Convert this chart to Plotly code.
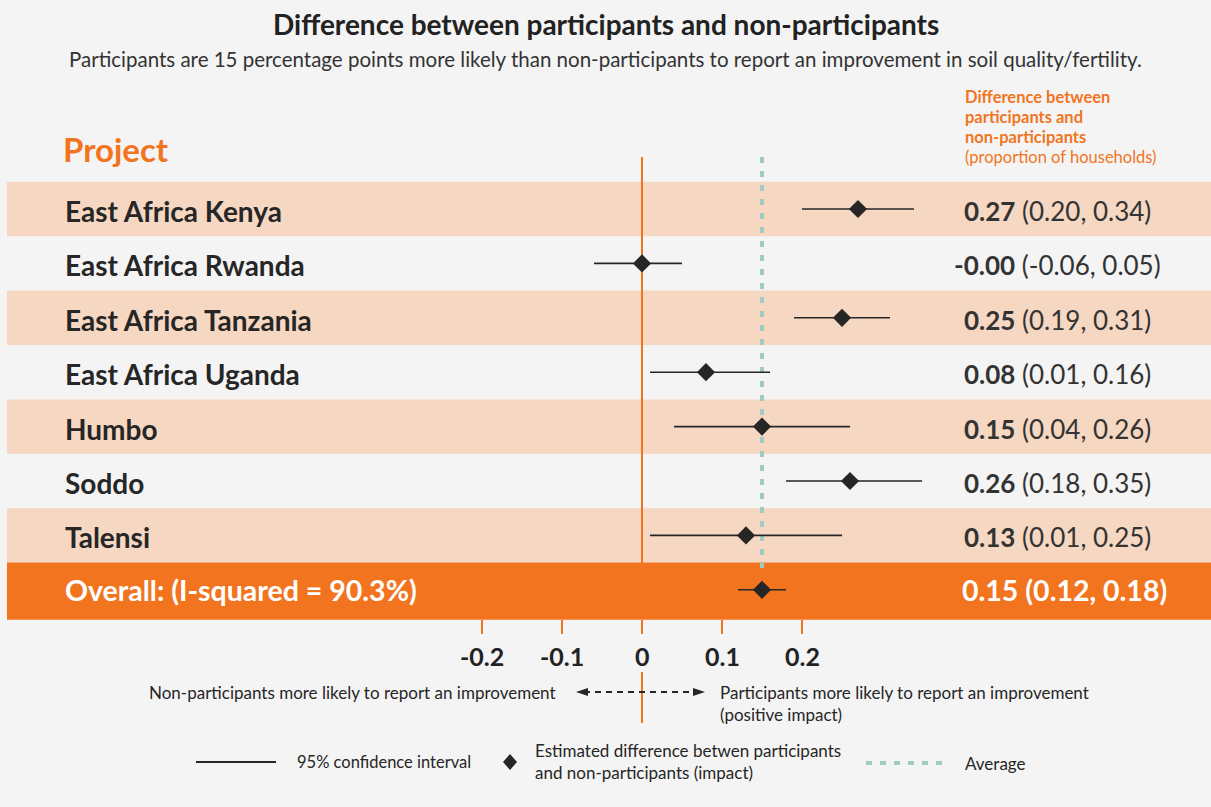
import plotly.graph_objects as go

# ---- data ----
projects = ["East Africa Kenya", "East Africa Rwanda", "East Africa Tanzania",
            "East Africa Uganda", "Humbo", "Soddo", "Talensi"]
estimates = [0.27, -0.00, 0.25, 0.08, 0.15, 0.26, 0.13]
ci_low = [0.20, -0.06, 0.19, 0.01, 0.04, 0.18, 0.01]
ci_high = [0.34, 0.05, 0.31, 0.16, 0.26, 0.35, 0.25]

overall_label = "Overall: (I-squared = 90.3%)"
overall_est = 0.15
overall_low = 0.12
overall_high = 0.18

tick_vals = [-0.2, -0.1, 0, 0.1, 0.2]
tick_text = ["-0.2", "-0.1", "0", "0.1", "0.2"]

# ---- layout helpers ----
W, H = 1211, 807
ZERO_PX, UNIT_PX = 642, 800          # x scale: pixels of x=0 and per unit
ROW0_PX, ROW_PX = 209, 54.4          # y scale: pixel of first row centre, row pitch

def py(px):
    """pixel row -> y data coordinate"""
    return (px - ROW0_PX) / ROW_PX

def pxx(px):
    return px / W

def pyy(px):
    return 1 - px / H

BG = "#f4f4f4"
PEACH = "#f6d7c2"
ORANGE = "#f2741f"
TEAL = "#9fcbc1"
DARK = "#262626"
FONT = "Lato"

fig = go.Figure()

n = len(projects)
rows = list(range(n))
overall_row = n

shapes = []
# alternating bands
for i in rows:
    if i % 2 == 0:
        shapes.append(dict(type="rect", xref="paper", yref="y", x0=pxx(7), x1=1,
                           y0=i - 0.5, y1=i + 0.5, fillcolor=PEACH, line_width=0,
                           layer="below"))
shapes.append(dict(type="rect", xref="paper", yref="y", x0=pxx(7), x1=1,
                   y0=overall_row - 0.5, y1=overall_row + 0.55, fillcolor=ORANGE,
                   line_width=0, layer="below"))

# zero reference line (above and below the axis labels)
shapes.append(dict(type="line", xref="x", yref="y", x0=0, x1=0, y0=py(157), y1=py(563),
                   line=dict(color=ORANGE, width=2), layer="below"))
shapes.append(dict(type="line", xref="x", yref="y", x0=0, x1=0, y0=py(672), y1=py(723),
                   line=dict(color=ORANGE, width=2)))
# average line
shapes.append(dict(type="line", xref="x", yref="y", x0=overall_est, x1=overall_est,
                   y0=py(157), y1=py(568),
                   line=dict(color=TEAL, width=4, dash="6px,8px"), layer="below"))
# tick marks
for t in tick_vals:
    shapes.append(dict(type="line", xref="x", yref="y", x0=t, x1=t, y0=py(620), y1=py(634),
                       line=dict(color=ORANGE, width=2)))

# dashed double arrow
ay = pyy(692)
shapes.append(dict(type="line", xref="paper", yref="paper", x0=pxx(584), x1=pxx(697),
                   y0=ay, y1=ay, line=dict(color=DARK, width=2, dash="6px,5px")))
for tip, base in [(576, 588), (705, 693)]:
    shapes.append(dict(type="path", xref="paper", yref="paper",
                       path=f"M {pxx(tip)},{ay} L {pxx(base)},{pyy(688)} L {pxx(base)},{pyy(696)} Z",
                       fillcolor=DARK, line_width=0))

# legend samples
shapes.append(dict(type="line", xref="paper", yref="paper", x0=pxx(196), x1=pxx(276),
                   y0=pyy(762), y1=pyy(762), line=dict(color=DARK, width=2)))
shapes.append(dict(type="path", xref="paper", yref="paper",
                   path=f"M {pxx(510)},{pyy(754)} L {pxx(517)},{pyy(762)} L {pxx(510)},{pyy(770)} L {pxx(503)},{pyy(762)} Z",
                   fillcolor=DARK, line_width=0))
shapes.append(dict(type="line", xref="paper", yref="paper", x0=pxx(866), x1=pxx(948),
                   y0=pyy(763), y1=pyy(763), line=dict(color=TEAL, width=4, dash="6px,8px")))

# ---- traces: confidence intervals and point estimates ----
all_rows = rows + [overall_row]
all_est = estimates + [overall_est]
all_lo = ci_low + [overall_low]
all_hi = ci_high + [overall_high]

fig.add_trace(go.Scatter(
    x=all_est, y=all_rows, mode="markers",
    marker=dict(symbol="diamond", size=14, color=DARK),
    error_x=dict(type="data", symmetric=False,
                 array=[h - e for h, e in zip(all_hi, all_est)],
                 arrayminus=[e - l for e, l in zip(all_est, all_lo)],
                 color=DARK, thickness=1.6, width=0),
    hoverinfo="skip", showlegend=False))

# ---- annotations ----
ann = []

def text(x, y, s, size, color=DARK, anchor="left", weight="normal", xref="paper", yref="paper"):
    ann.append(dict(x=x, y=y, xref=xref, yref=yref, text=s, showarrow=False,
                    xanchor=anchor, yanchor="middle",
                    font=dict(family=FONT, size=size, color=color, weight=weight)))

text(0.5, pyy(24), "Difference between participants and non-participants", 28,
     anchor="center", weight="bold", color="#222222")
text(0.5, pyy(59), "Participants are 15 percentage points more likely than non-participants "
     "to report an improvement in soil quality/fertility.", 20.5, anchor="center", color="#333333")

text(pxx(61), pyy(149), "Project", 33, color=ORANGE, weight="bold")
for k, line in enumerate(["Difference between", "participants and", "non-participants"]):
    text(pxx(963), pyy(97 + 20 * k), line, 16.5, color=ORANGE, weight="bold")
text(pxx(963), pyy(157), "(proportion of households)", 16.5, color=ORANGE)

for i, name in enumerate(projects):
    text(pxx(63), i, name, 28, weight="bold", yref="y")
    ann[-1]["yshift"] = -2
    text(pxx(1057), i, f"<b>{estimates[i]:.2f}</b> ({ci_low[i]:.2f}, {ci_high[i]:.2f})",
         26, anchor="center", yref="y", color="#333333")
    ann[-1]["yshift"] = -2

text(pxx(63), overall_row, overall_label, 28.5, color="white", weight="bold", yref="y")
text(pxx(1064), overall_row,
     f"{overall_est:.2f} ({overall_low:.2f}, {overall_high:.2f})",
     28.5, color="white", weight="bold", anchor="center", yref="y")

for t, s in zip(tick_vals, tick_text):
    text(t, pyy(656), s, 25, anchor="center", weight="bold", xref="x", color="#222222")

text(pxx(558), pyy(692), "Non-participants more likely to report an improvement", 17, anchor="right")
text(pxx(718), pyy(692), "Participants more likely to report an improvement", 17)
text(pxx(718), pyy(714), "(positive impact)", 17)

text(pxx(295), pyy(762), "95% confidence interval", 16.5)
text(pxx(533), pyy(750), "Estimated difference betwen participants", 17)
text(pxx(533), pyy(772), "and non-participants (impact)", 17)
text(pxx(963), pyy(763), "Average", 17)

fig.update_layout(
    width=W, height=H,
    margin=dict(l=0, r=0, t=0, b=0),
    paper_bgcolor=BG, plot_bgcolor=BG,
    xaxis=dict(range=[-ZERO_PX / UNIT_PX, (W - ZERO_PX) / UNIT_PX], visible=False, fixedrange=True),
    yaxis=dict(range=[py(H), py(0)], visible=False, fixedrange=True),
    shapes=shapes, annotations=ann,
)

fig.write_html("out.html")
